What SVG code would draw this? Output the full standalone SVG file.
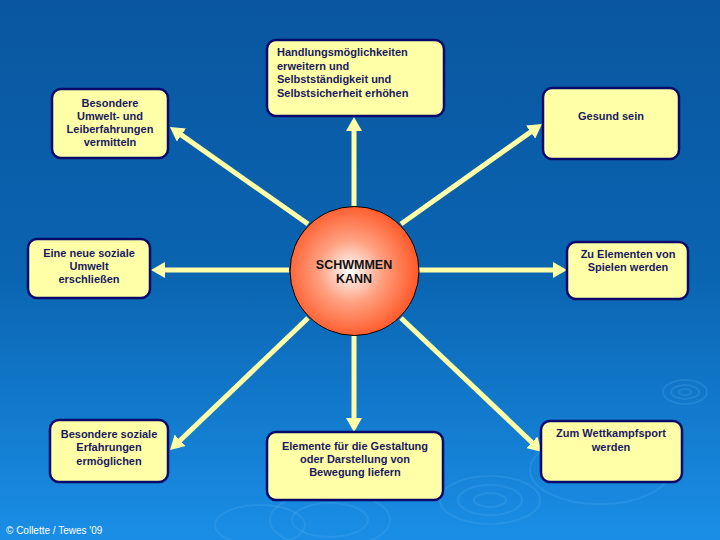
<svg xmlns="http://www.w3.org/2000/svg" width="720" height="540" viewBox="0 0 720 540">
  <defs>
    <linearGradient id="bg" x1="0" y1="0" x2="0" y2="1">
      <stop offset="0" stop-color="#0a56a0"/>
      <stop offset="0.5" stop-color="#0a64b0"/>
      <stop offset="1" stop-color="#1a8ee6"/>
    </linearGradient>
    <radialGradient id="ball" cx="0.47" cy="0.5" r="0.55">
      <stop offset="0" stop-color="#ffffff"/>
      <stop offset="0.45" stop-color="#ffa080"/>
      <stop offset="1" stop-color="#ff5220"/>
    </radialGradient>
    <marker id="ah" markerUnits="userSpaceOnUse" viewBox="0 0 14 16" markerWidth="14" markerHeight="16" refX="2" refY="8" orient="auto">
      <path d="M0,0 L14,8 L0,16 Z" fill="#ffffa8"/>
    </marker>
    <style>
      .box { fill: #ffffa8; stroke: #0a0a6a; stroke-width: 2.5; }
      .t { font-family: "Liberation Sans", Arial, sans-serif; font-size: 11px; font-weight: bold; fill: #1a1a60; text-anchor: middle; }
      .conn line { stroke: #ffffa8; stroke-width: 5; marker-end: url(#ah); }
      .rip { fill: none; stroke: #5ab0f0; stroke-opacity: 0.22; stroke-width: 2; }
    </style>
  </defs>

  <rect x="0" y="0" width="720" height="540" fill="url(#bg)"/>

  <g id="ripples">
    <ellipse class="rip" cx="685" cy="392" rx="22" ry="12"/>
    <ellipse class="rip" cx="685" cy="392" rx="14" ry="7"/>
    <ellipse class="rip" cx="685" cy="392" rx="6" ry="3"/>
    <ellipse class="rip" cx="490" cy="500" rx="50" ry="24"/>
    <ellipse class="rip" cx="490" cy="500" rx="32" ry="15"/>
    <ellipse class="rip" cx="490" cy="500" rx="16" ry="7"/>
    <ellipse class="rip" cx="330" cy="520" rx="60" ry="28"/>
    <ellipse class="rip" cx="330" cy="520" rx="38" ry="17"/>
    <ellipse class="rip" cx="600" cy="470" rx="70" ry="34"/>
    <ellipse class="rip" cx="260" cy="525" rx="45" ry="20"/>
  </g>

  <g class="conn" id="connectors">
    <line x1="354" y1="206" x2="354" y2="129"/>
    <line x1="354" y1="336" x2="354" y2="420"/>
    <line x1="289" y1="270" x2="163" y2="270"/>
    <line x1="419" y1="270" x2="555" y2="270"/>
    <line x1="308" y1="224" x2="179.8" y2="133.9"/>
    <line x1="401" y1="224" x2="532.2" y2="130.9"/>
    <line x1="308" y1="318" x2="178.7" y2="441.7"/>
    <line x1="401" y1="318" x2="533.3" y2="443.7"/>
  </g>

  <g id="center">
    <circle cx="354.5" cy="271" r="64.5" fill="url(#ball)" stroke="#000" stroke-width="1"/>
    <text x="354" y="269" font-family="Liberation Sans, Arial, sans-serif" font-size="12.5" font-weight="bold" fill="#111" text-anchor="middle">SCHWMMEN</text>
    <text x="354" y="283" font-family="Liberation Sans, Arial, sans-serif" font-size="12.5" font-weight="bold" fill="#111" text-anchor="middle">KANN</text>
  </g>

  <g id="n-handlung">
    <rect class="box" x="267" y="40" width="177" height="76" rx="9"/>
    <text class="t" style="text-anchor:start" x="277" y="56">Handlungsmöglichkeiten</text>
    <text class="t" style="text-anchor:start" x="277" y="70">erweitern und</text>
    <text class="t" style="text-anchor:start" x="277" y="83">Selbstständigkeit und</text>
    <text class="t" style="text-anchor:start" x="277" y="97">Selbstsicherheit erhöhen</text>
  </g>

  <g id="n-umwelt">
    <rect class="box" x="52" y="89" width="116" height="69" rx="9"/>
    <text class="t" x="110" y="107">Besondere</text>
    <text class="t" x="110" y="120">Umwelt- und</text>
    <text class="t" x="110" y="133">Leiberfahrungen</text>
    <text class="t" x="110" y="146">vermitteln</text>
  </g>

  <g id="n-gesund">
    <rect class="box" x="543" y="88" width="136" height="71" rx="9"/>
    <text class="t" x="611" y="120">Gesund sein</text>
  </g>

  <g id="n-sozialumwelt">
    <rect class="box" x="28" y="239" width="122" height="59" rx="9"/>
    <text class="t" x="89" y="257">Eine neue soziale</text>
    <text class="t" x="89" y="270">Umwelt</text>
    <text class="t" x="89" y="283">erschließen</text>
  </g>

  <g id="n-spielen">
    <rect class="box" x="567" y="242" width="121" height="57" rx="9"/>
    <text class="t" x="628" y="258">Zu Elementen von</text>
    <text class="t" x="628" y="271">Spielen werden</text>
  </g>

  <g id="n-erfahrungen">
    <rect class="box" x="50" y="420" width="118" height="62" rx="9"/>
    <text class="t" x="109" y="438">Besondere soziale</text>
    <text class="t" x="109" y="451">Erfahrungen</text>
    <text class="t" x="109" y="465">ermöglichen</text>
  </g>

  <g id="n-gestaltung">
    <rect class="box" x="267" y="432" width="176" height="68" rx="9"/>
    <text class="t" x="355" y="450">Elemente für die Gestaltung</text>
    <text class="t" x="355" y="463">oder Darstellung von</text>
    <text class="t" x="355" y="476">Bewegung liefern</text>
  </g>

  <g id="n-wettkampf">
    <rect class="box" x="541" y="421" width="141" height="61" rx="9"/>
    <text class="t" x="611" y="437">Zum Wettkampfsport</text>
    <text class="t" x="611" y="451">werden</text>
  </g>

  <text x="6" y="534" font-family="Liberation Sans, Arial, sans-serif" font-size="10" fill="#ffffff">© Collette / Tewes '09</text>
</svg>
